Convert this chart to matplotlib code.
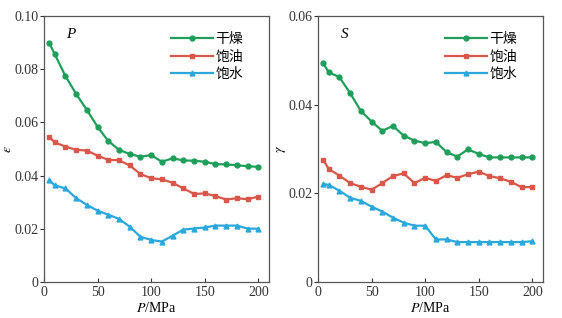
import matplotlib
matplotlib.use('Agg')
import matplotlib.pyplot as plt

plt.rcParams['font.family'] = ['Liberation Serif', 'Noto Sans CJK SC']
plt.rcParams['mathtext.fontset'] = 'stix'
plt.rcParams['font.size'] = 10

# pressure steps (MPa)
pressure = [5, 10, 20, 30, 40, 50, 60, 70, 80, 90, 100,
            110, 120, 130, 140, 150, 160, 170, 180, 190, 200]

# left panel: epsilon under P loading
eps_dry = [0.0898, 0.0857, 0.0774, 0.0707, 0.0647, 0.0583, 0.0530, 0.0497, 0.0481, 0.0471, 0.0477,
           0.0452, 0.0465, 0.0457, 0.0456, 0.0452, 0.0443, 0.0442, 0.0439, 0.0435, 0.0433]
eps_oil = [0.0545, 0.0525, 0.0509, 0.0497, 0.0494, 0.0475, 0.0459, 0.0458, 0.0438, 0.0406, 0.0390,
           0.0386, 0.0373, 0.0352, 0.0331, 0.0333, 0.0323, 0.0310, 0.0315, 0.0311, 0.0321]
eps_water = [0.0383, 0.0363, 0.0352, 0.0315, 0.0290, 0.0268, 0.0253, 0.0237, 0.0208, 0.0170, 0.0158,
             0.0152, 0.0174, 0.0197, 0.0201, 0.0205, 0.0212, 0.0212, 0.0212, 0.0201, 0.0200]

# right panel: gamma under S loading
gam_dry = [0.0493, 0.0473, 0.0462, 0.0426, 0.0386, 0.0362, 0.0341, 0.0352, 0.0330, 0.0319, 0.0313,
           0.0316, 0.0293, 0.0283, 0.0299, 0.0289, 0.0281, 0.0281, 0.0281, 0.0281, 0.0281]
gam_oil = [0.0275, 0.0255, 0.0240, 0.0223, 0.0215, 0.0208, 0.0223, 0.0239, 0.0245, 0.0223, 0.0235,
           0.0228, 0.0241, 0.0235, 0.0243, 0.0249, 0.0239, 0.0234, 0.0226, 0.0214, 0.0214]
gam_water = [0.0221, 0.0219, 0.0206, 0.0190, 0.0183, 0.0170, 0.0159, 0.0145, 0.0134, 0.0127, 0.0127,
             0.0096, 0.0096, 0.0090, 0.0090, 0.0090, 0.0090, 0.0090, 0.0090, 0.0090, 0.0092]

labels = ['干燥', '饱油', '饱水']
colors = ['#1f9e5a', '#d9574a', '#2aa8dc']
markers = ['o', 's', '^']

fig = plt.figure(figsize=(5.62, 3.18), dpi=100)
ax1 = fig.add_axes([0.0783, 0.1132, 0.4004, 0.8365])
ax2 = fig.add_axes([0.5658, 0.1132, 0.4004, 0.8365])

panels = [
    (ax1, [eps_dry, eps_oil, eps_water], r'$\varepsilon$', 'P', 0.10, [0, 0.02, 0.04, 0.06, 0.08, 0.10]),
    (ax2, [gam_dry, gam_oil, gam_water], r'$\gamma$', 'S', 0.06, [0, 0.02, 0.04, 0.06]),
]

for ax, series, ylab, tag, ymax, yticks in panels:
    for ys, lab, c, m in zip(series, labels, colors, markers):
        ax.plot(pressure, ys, color=c, marker=m, markersize=3.5, linewidth=1.6, label=lab)
    ax.set_xlim(0, 210)
    ax.set_ylim(0, ymax)
    ax.set_xticks([0, 50, 100, 150, 200])
    ax.set_yticks(yticks)
    ax.set_yticklabels(['0'] + [f'{v:.2f}' for v in yticks[1:]])
    # x ticks point inward, y ticks outward as in the source figure
    ax.tick_params(axis='x', direction='in', length=3, width=0.8, colors='#333333', labelsize=10, pad=3)
    ax.tick_params(axis='y', direction='out', length=3, width=0.8, colors='#333333', labelsize=10, pad=1)
    for sp in ax.spines.values():
        sp.set_color('#555555')
        sp.set_linewidth(0.9)
    ax.set_xlabel(r'$P$/MPa', fontsize=10, labelpad=1)
    ax.set_ylabel(ylab, fontsize=10, labelpad=0)
    ax.text(0.10, 0.93, tag, transform=ax.transAxes, fontsize=11, fontstyle='italic', va='center')
    ax.legend(loc='upper right', bbox_to_anchor=(0.91, 0.96), borderaxespad=0, frameon=False,
              handlelength=3.0, handletextpad=0.2, labelspacing=0.25,
              prop={'family': ['Noto Sans CJK SC'], 'size': 10})

fig.savefig('out.png', dpi=100)
